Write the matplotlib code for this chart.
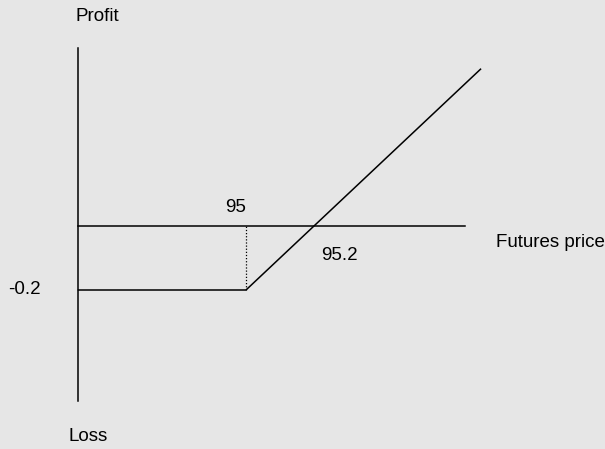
import matplotlib
matplotlib.use('Agg')
from matplotlib import pyplot as plt
import numpy as np

plt.rcParams['font.family'] = ['Liberation Sans', 'DejaVu Sans']

# long put on futures: strike 95, premium 0.2
strike = 95.0
premium = 0.2
breakeven = 95.2
price_pts = [94.5, 95.0, 95.7]
profit_pts = [-0.2, -0.2, 0.49]

fig = plt.figure(figsize=(6.05, 4.49), dpi=100)
fig.patch.set_facecolor('#e6e6e6')
ax = fig.add_axes([0, 0, 1, 1])
ax.set_facecolor('#e6e6e6')
ax.set_xlim(94.2657, 96.0716)
ax.set_ylim(-0.696875, 0.70625)
ax.axis('off')

# axes of the diagram
ax.plot([94.5, 94.5], [-0.547, 0.556], color='black', lw=1.1)
ax.plot([94.5, 95.654], [0, 0], color='black', lw=1.1)

# payoff
ax.plot(price_pts, profit_pts, color='black', lw=1.1)
ax.plot([strike, strike], [-premium, 0], color='black', lw=0.9, linestyle=(0, (1, 1.5)))

fs = 13.5
ax.text(94.555, 0.656, 'Profit', fontsize=fs, ha='center', va='center')
ax.text(94.528, -0.659, 'Loss', fontsize=fs, ha='center', va='center')
ax.text(94.97, 0.059, '95', fontsize=fs, ha='center', va='center')
ax.text(95.28, -0.091, '95.2', fontsize=fs, ha='center', va='center')
ax.text(94.34, -0.2, '-0.2', fontsize=fs, ha='center', va='center')
ax.text(95.746, -0.053, 'Futures price', fontsize=fs, ha='left', va='center')

plt.savefig('out.png', dpi=100, facecolor=fig.get_facecolor())
